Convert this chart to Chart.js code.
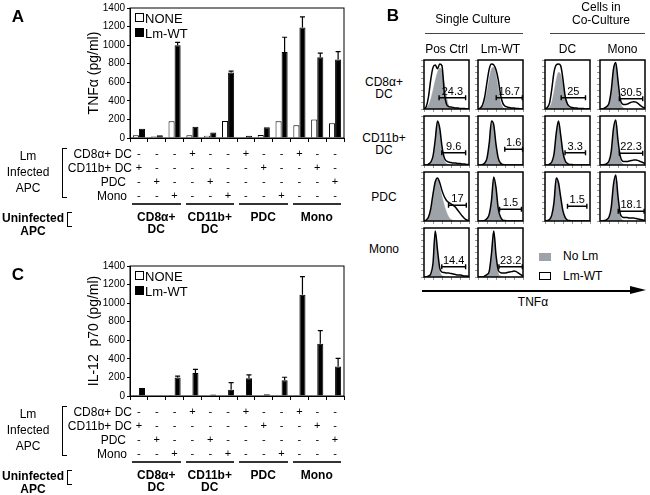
<!DOCTYPE html>
<html><head><meta charset="utf-8">
<script src="https://cdn.jsdelivr.net/npm/chart.js@4"></script>
<style>
html,body{margin:0;padding:0;background:#fff;}
body{width:650px;height:495px;overflow:hidden;position:relative;font-family:Arial,"Liberation Sans",sans-serif;color:#000;}
.t{position:absolute;white-space:nowrap;font-size:12px;line-height:1;}
canvas{position:absolute;}
</style></head><body>
<script>
// ---------- DATA: panels A and C ----------
const columns = ['1','2','3','4','5','6','7','8','9','10','11','12'];
const infectedRows = ['CD8\u03b1+  DC', 'CD11b+ DC', 'PDC', 'Mono'];
const infCD8   = ['-','-','-','+','-','-','+','-','-','+','-','-'];
const infCD11b = ['+','-','-','-','-','-','-','+','-','-','+','-'];
const infPDC   = ['-','+','-','-','+','-','-','-','-','-','-','+'];
const infMono  = ['-','-','+','-','-','+','-','-','+','-','-','-'];
const uninfectedGroups = [['CD8\u03b1+','DC'], ['CD11b+','DC'], ['PDC'], ['Mono']];
const yTicks = [0, 200, 400, 600, 800, 1000, 1200, 1400];

const tnfNone  = [30, 15, 180, 30, 25, 182, 8, 33, 180, 138, 198, 160];
const tnfLmWT  = [100, 30, 1000, 120, 60, 705, 25, 115, 925, 1190, 870, 845];
const tnfLmErr = [0, 0, 30, 0, 0, 15, 0, 0, 160, 115, 45, 85];

const il12None  = [12, 4, 10, 4, 2, 2, 4, 2, 2, 8, 2, 2];
const il12LmWT  = [85, 8, 198, 247, 15, 68, 190, 20, 170, 1091, 563, 317];
const il12LmErr = [0, 0, 17, 40, 0, 77, 38, 0, 32, 195, 141, 88];

// ---------- DATA: panel B histograms ----------
const bins = [0,1,2,3,4,5,6,7,8,9,10,11,12,13,14,15,16,17,18,19,20];
const colHeads = ['Pos Ctrl', 'Lm-WT', 'DC', 'Mono'];
const rowHeads = [['CD8\u03b1+','DC'], ['CD11b+','DC'], ['PDC'], ['Mono']];

const noLm_CD8_Pos  = [0,2,8,20,38,58,75,83,78,55,25,6,1,0,0,0,0,0,0,0,0];
const lmWT_CD8_Pos  = [0,5,25,60,85,90,82,92,88,35,10,5,4,3,2,2,1,1,1,0,0];
const noLm_CD8_Lm   = [0,1,5,15,35,62,82,85,70,42,15,4,1,0,0,0,0,0,0,0,0];
const lmWT_CD8_Lm   = [0,2,8,25,55,82,92,90,80,60,30,12,6,4,3,2,2,1,1,0,0];
const noLm_CD8_DC   = [0,1,4,14,35,60,75,70,50,25,8,2,0,0,0,0,0,0,0,0,0];
const lmWT_CD8_DC   = [0,3,12,40,75,90,92,88,60,25,10,5,3,2,2,1,1,1,0,0,0];
const noLm_CD8_Mo   = [0,0,1,3,10,35,80,92,55,15,4,1,0,0,0,0,0,0,0,0,0];
const lmWT_CD8_Mo   = [0,0,2,5,12,38,82,95,58,20,10,9,10,12,14,15,14,11,7,4,2];

const noLm_11b_Pos  = [0,0,1,4,15,48,88,70,32,10,3,1,0,0,0,0,0,0,0,0,0];
const lmWT_11b_Pos  = [0,0,2,6,18,52,90,75,38,15,8,6,5,4,4,3,3,2,2,1,1];
const noLm_11b_Lm   = [0,0,1,3,12,42,85,80,40,12,3,1,0,0,0,0,0,0,0,0,0];
const lmWT_11b_Lm   = [0,0,1,4,14,45,90,82,42,14,4,1,0,0,0,0,0,0,0,0,0];
const noLm_11b_DC   = [0,0,1,4,18,60,88,55,20,5,1,0,0,0,0,0,0,0,0,0,0];
const lmWT_11b_DC   = [0,0,2,6,22,65,90,60,25,8,3,1,1,0,0,0,0,0,0,0,0];
const noLm_11b_Mo   = [0,0,1,2,6,25,70,90,45,12,3,1,0,0,0,0,0,0,0,0,0];
const lmWT_11b_Mo   = [0,0,1,3,8,28,75,92,50,18,8,7,7,8,9,10,10,9,7,5,3];

const noLm_PDC_Pos  = [0,1,5,20,50,78,85,70,50,32,18,8,3,1,0,0,0,0,0,0,0];
const lmWT_PDC_Pos  = [0,2,8,25,55,80,88,78,62,50,42,38,35,32,28,22,16,10,5,2,1];
const noLm_PDC_Lm   = [0,0,0,1,4,12,40,88,65,22,6,1,0,0,0,0,0,0,0,0,0];
const lmWT_PDC_Lm   = [0,0,0,1,5,14,42,90,68,25,8,2,1,0,0,0,0,0,0,0,0];
const noLm_PDC_DC   = [0,0,2,10,35,85,75,45,18,5,1,0,0,0,0,0,0,0,0,0,0];
const lmWT_PDC_DC   = [0,1,3,12,38,88,78,48,20,7,2,1,0,0,0,0,0,0,0,0,0];
const noLm_PDC_Mo   = [0,0,1,2,6,25,70,92,45,10,2,0,0,0,0,0,0,0,0,0,0];
const lmWT_PDC_Mo   = [0,0,1,3,8,28,75,94,50,15,8,7,7,6,6,6,5,4,3,2,1];

const noLm_Mo_Pos   = [0,0,1,4,25,92,50,12,3,1,0,0,0,0,0,0,0,0,0,0,0];
const lmWT_Mo_Pos   = [0,0,2,6,28,94,55,18,10,9,8,8,7,6,5,4,4,3,2,2,1];
const noLm_Mo_Lm    = [0,0,0,1,3,10,45,92,40,8,2,0,0,0,0,0,0,0,0,0,0];
const lmWT_Mo_Lm    = [0,0,0,2,5,12,48,94,45,14,9,8,8,9,10,11,12,11,8,5,2];

const gatePercent = ['24.3','16.7','25','30.5','9.6','1.6','3.3','22.3','17','1.5','1.5','18.1','14.4','23.2'];
const gateFrom    = [6.7, 8.1, 7.2, 8.6, 7.9, 11.9, 8.9, 8.6, 10.9, 9.6, 10, 8.1, 7.9, 9.3];
const gateTo      = [18.5, 19.7, 18, 19, 18.5, 19.8, 18, 19, 18.8, 19.3, 18.6, 19.6, 18.5, 19.7];
const gateLevel   = [23, 23, 23, 21, 25, 32, 25, 24, 32, 24, 30, 20, 21, 21];

// ---------- helpers ----------
const FAM = 'Arial, "Liberation Sans", sans-serif';
function mkCanvas(x,y,w,h){const c=document.createElement('canvas');c.width=w;c.height=h;c.style.left=x+'px';c.style.top=y+'px';c.style.width=w+'px';c.style.height=h+'px';document.body.appendChild(c);return c;}
function txt(s,x,y,o={}){const d=document.createElement('div');d.className='t';d.textContent=s;d.style.left=x+'px';d.style.top=y+'px';d.style.fontSize=(o.size||12)+'px';if(o.bold)d.style.fontWeight='bold';const a=o.align||'center';const tx=a==='center'?'-50%':a==='right'?'-100%':'0';d.style.transform='translate('+tx+',-50%)';if(o.color)d.style.color=o.color;document.body.appendChild(d);return d;}
function box(x,y,w,h,css){const d=document.createElement('div');d.style.position='absolute';d.style.left=x+'px';d.style.top=y+'px';d.style.width=w+'px';d.style.height=h+'px';d.style.boxSizing='border-box';Object.assign(d.style,css||{});document.body.appendChild(d);return d;}

const framePlugin = {id:'frame', afterDraw(chart,args,opts){const a=chart.chartArea,ctx=chart.ctx;ctx.save();ctx.strokeStyle='#000';ctx.lineWidth=opts.width||1;ctx.strokeRect(a.left,a.top,a.right-a.left,a.bottom-a.top);ctx.restore();}};
const errPlugin = {id:'errbars', afterDatasetsDraw(chart){const y=chart.scales.y,ctx=chart.ctx;chart.data.datasets.forEach((d,di)=>{if(!d.err)return;const meta=chart.getDatasetMeta(di);ctx.save();ctx.strokeStyle='#000';ctx.lineWidth=1.2;meta.data.forEach((bar,i)=>{const e=d.err[i];if(!e)return;const top=y.getPixelForValue(d.data[i]+e);ctx.beginPath();ctx.moveTo(bar.x,bar.y);ctx.lineTo(bar.x,top);ctx.moveTo(bar.x-2.5,top);ctx.lineTo(bar.x+2.5,top);ctx.stroke();});ctx.restore();});}};
const gatePlugin = {id:'gate', afterDatasetsDraw(chart,args,o){const ctx=chart.ctx,x=chart.scales.x,y=chart.scales.y;const x1=x.getPixelForValue(o.from),x2=x.getPixelForValue(o.to),yy=y.getPixelForValue(o.level);ctx.save();ctx.strokeStyle='#000';ctx.lineWidth=1.4;ctx.beginPath();ctx.moveTo(x1,yy);ctx.lineTo(x2,yy);ctx.moveTo(x1,yy-2.5);ctx.lineTo(x1,yy+2.5);ctx.moveTo(x2,yy-2.5);ctx.lineTo(x2,yy+2.5);ctx.stroke();ctx.fillStyle='#000';ctx.font='11px '+FAM;ctx.textAlign='center';ctx.textBaseline='bottom';ctx.fillText(o.text,(x1+x2)/2,yy-0.5);ctx.restore();}};

// ---------- bar panels ----------
function barPanel(oy, letter, noneVals, wtVals, wtErr, yTitle){
  const c = mkCanvas(0, oy, 350, 210);
  const chart = new Chart(c, {
    type:'bar',
    data:{labels:columns, datasets:[
      {label:'NONE', data:noneVals, backgroundColor:'#fff', borderColor:'#000', borderWidth:1, categoryPercentage:0.68, barPercentage:1},
      {label:'Lm-WT', data:wtVals, err:wtErr, backgroundColor:'#000', borderColor:'#000', borderWidth:1, categoryPercentage:0.68, barPercentage:1}
    ]},
    options:{responsive:false, animation:false, devicePixelRatio:1, events:[],
      layout:{padding:{left:82, top:7, right:6, bottom:0}},
      plugins:{legend:{display:false}, tooltip:{enabled:false}, frame:{width:1}},
      scales:{
        x:{grid:{display:true, drawOnChartArea:false, drawTicks:true, tickLength:4, color:'#000', offset:true},
           border:{color:'#000'},
           ticks:{autoSkip:false, maxRotation:0, minRotation:0, padding:5, color:'#000', font:{size:11, family:FAM, lineHeight:1.27},
                  callback:(v,i)=>[infCD8[i], infCD11b[i], infPDC[i], infMono[i]]},
           afterFit:s=>{s.height=72;}},
        y:{min:0, max:1400, afterBuildTicks:s=>{s.ticks=yTicks.map(v=>({value:v}));},
           ticks:{color:'#000', font:{size:10, family:FAM}, padding:2, callback:v=>String(v)},
           grid:{drawOnChartArea:false, tickLength:3, color:'#000'}, border:{color:'#000'},
           title:{display:true, text:yTitle, color:'#000', font:{size:14, family:FAM}, padding:{top:4, bottom:0}},
           afterFit:s=>{s.width=48;}}
      }
    },
    plugins:[framePlugin, errPlugin]
  });
  // panel letter
  txt(letter, 18, oy+16, {bold:true, size:17});
  // legend inside plot
  box(135, oy+13, 9, 9, {border:'1px solid #000', background:'#fff'});
  txt('NONE', 145, oy+18, {align:'left', size:13});
  box(135, oy+28, 9, 9, {background:'#000'});
  txt('Lm-WT', 145, oy+33, {align:'left', size:13});
  // infected APC labels
  txt('Lm', 28, oy+156); txt('Infected', 28, oy+172); txt('APC', 28, oy+188);
  box(62, oy+148, 5, 50, {borderTop:'1px solid #000', borderLeft:'1px solid #000', borderBottom:'1px solid #000'});
  const rowY=[154,168,182,196];
  const rowRight=[132,132,126,127];
  infectedRows.forEach((r,i)=>txt(r, rowRight[i], oy+rowY[i], {align:'right'}));
  // uninfected groups
  txt('Uninfected', 33, oy+218, {bold:true}); txt('APC', 33, oy+231, {bold:true});
  box(67, oy+212, 5, 15, {borderTop:'1px solid #000', borderLeft:'1px solid #000', borderBottom:'1px solid #000'});
  const xs=chart.scales.x; const cw=xs.getPixelForValue(1)-xs.getPixelForValue(0);
  uninfectedGroups.forEach((g,k)=>{
    const l=xs.getPixelForValue(3*k)-cw/2+2, r=xs.getPixelForValue(3*k+2)+cw/2-3;
    box(l, oy+203, r-l, 1.5, {background:'#333'});
    const cx=(l+r)/2;
    g.forEach((s,j)=>txt(s, cx, oy+217+12*j, {bold:true}));
  });
}
barPanel(0, 'A', tnfNone, tnfLmWT, tnfLmErr, 'TNF\u03b1 (pg/ml)');
barPanel(258, 'C', il12None, il12LmWT, il12LmErr, 'IL-12  p70 (pg/ml)');

// ---------- panel B ----------
const colX=[424,478,545,600], rowYB=[60,116,172,228], BW=45, BH=49;
const hist=[
 [noLm_CD8_Pos,lmWT_CD8_Pos],[noLm_CD8_Lm,lmWT_CD8_Lm],[noLm_CD8_DC,lmWT_CD8_DC],[noLm_CD8_Mo,lmWT_CD8_Mo],
 [noLm_11b_Pos,lmWT_11b_Pos],[noLm_11b_Lm,lmWT_11b_Lm],[noLm_11b_DC,lmWT_11b_DC],[noLm_11b_Mo,lmWT_11b_Mo],
 [noLm_PDC_Pos,lmWT_PDC_Pos],[noLm_PDC_Lm,lmWT_PDC_Lm],[noLm_PDC_DC,lmWT_PDC_DC],[noLm_PDC_Mo,lmWT_PDC_Mo],
 [noLm_Mo_Pos,lmWT_Mo_Pos],[noLm_Mo_Lm,lmWT_Mo_Lm]
];
const GRAY='#9ea2a9';
hist.forEach((h,k)=>{
  const r=Math.floor(k/4), cI=k%4;
  const x=colX[cI], y=rowYB[r];
  const c=mkCanvas(x-4, y-1, BW+5, BH+5);
  new Chart(c,{type:'line',
    data:{labels:bins, datasets:[
      {data:h[1], borderColor:'#000', borderWidth:1.5, pointRadius:0, fill:false, cubicInterpolationMode:'monotone', order:0},
      {data:h[0], borderColor:GRAY, borderWidth:0.5, backgroundColor:GRAY, pointRadius:0, fill:'origin', cubicInterpolationMode:'monotone', order:1}
    ]},
    options:{responsive:false, animation:false, devicePixelRatio:1, events:[],
      layout:{padding:{top:1,right:1,left:0,bottom:0}},
      plugins:{legend:{display:false}, tooltip:{enabled:false}, frame:{width:1.5},
               gate:{from:gateFrom[k], to:gateTo[k], level:gateLevel[k], text:gatePercent[k]}},
      scales:{
        x:{type:'linear', min:0, max:20, ticks:{display:false, stepSize:4}, grid:{drawOnChartArea:false, tickLength:3, color:'#999'}, border:{display:false}, afterFit:s=>{s.height=4;}},
        y:{min:0, max:100, ticks:{display:false, stepSize:12.5}, grid:{drawOnChartArea:false, tickLength:3, color:'#999'}, border:{display:false}, afterFit:s=>{s.width=4;}}
      }
    },
    plugins:[framePlugin, gatePlugin]
  });
});
txt('B', 393, 15, {bold:true, size:17});
txt('Single Culture', 473, 19);
box(425, 33, 98, 1.2, {background:'#444'});
txt('Cells in', 601, 7); txt('Co-Culture', 601, 20);
box(550, 33, 95, 1.2, {background:'#444'});
colHeads.forEach((s,i)=>txt(s, colX[i]+BW/2, 49));
const rowHeadY=[[82,94],[138,150],[197],[249]];
rowHeads.forEach((g,i)=>g.forEach((s,j)=>txt(s, 384, rowHeadY[i][j])));
box(539, 253, 12, 8, {background:GRAY});
txt('No Lm', 563, 256, {align:'left'});
box(539, 272, 12, 8, {border:'1px solid #000', background:'#fff'});
txt('Lm-WT', 563, 276, {align:'left'});
box(422, 290, 210, 1.5, {background:'#000'});
box(630, 286, 0, 0, {borderTop:'4.5px solid transparent', borderBottom:'4.5px solid transparent', borderLeft:'16px solid #000', width:'0', height:'0'});
txt('TNF\u03b1', 533, 302);
</script>
</body></html>
